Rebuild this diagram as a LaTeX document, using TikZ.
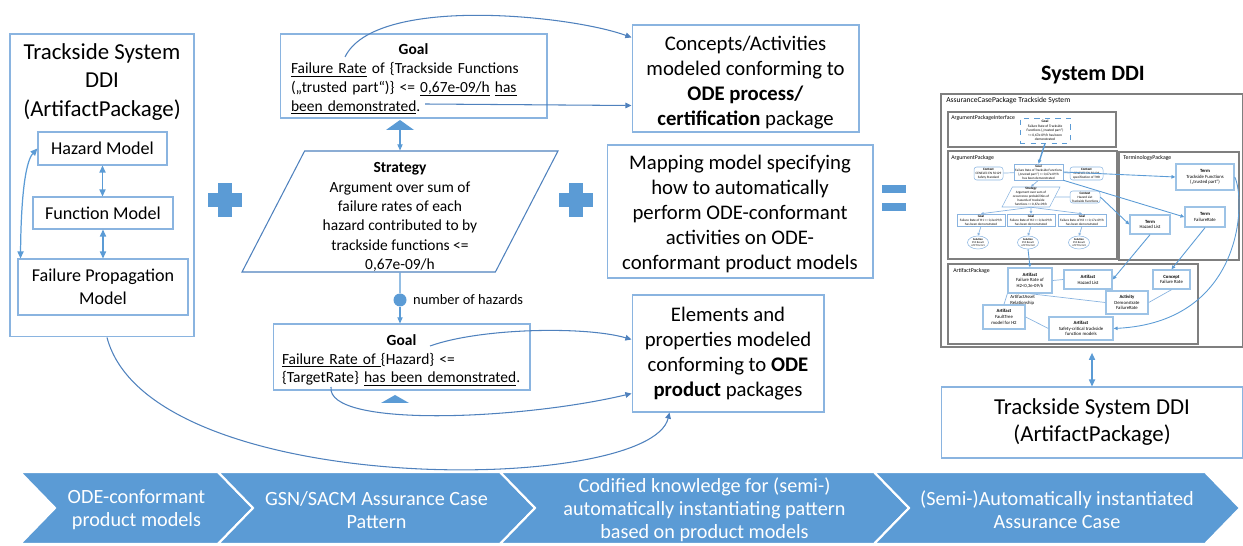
\documentclass[tikz,border=0pt]{standalone}
\usepackage{fontspec}
\setmainfont{Carlito}
\usetikzlibrary{arrows.meta,shapes.geometric,calc,positioning}
\definecolor{odeblue}{HTML}{5B9BD5}
\definecolor{boxline}{HTML}{8AB4E0}
\definecolor{linkline}{HTML}{4F81BD}
\definecolor{pkggray}{HTML}{7F7F7F}
\newcommand\undl[1]{\underline{\smash{#1}}}
\begin{document}
\begin{tikzpicture}[x=0.02cm,y=-0.02cm,
  box/.style={draw=boxline,line width=0.6pt,inner sep=0pt,align=center},
  bigtext/.style={font=\fontsize{11.8}{14.2}\selectfont},
  gsntext/.style={font=\fontsize{8.8}{10.7}\selectfont},
  link/.style={draw=linkline,line width=0.6pt,-{Triangle[length=3.5pt,width=3.2pt]}},
  stem/.style={draw=odeblue,line width=0.6pt},
  twoway/.style={draw=odeblue,line width=0.7pt,{Triangle[length=4pt,width=3.5pt]}-{Triangle[length=4pt,width=3.5pt]}},
  pkg/.style={draw=pkggray,line width=0.7pt,inner sep=0pt},
  pkglabel/.style={anchor=west,inner sep=0pt,font=\fontsize{3.3}{4}\selectfont},
  gsnmini/.style={draw=boxline,line width=0.3pt,inner sep=0pt,align=center,font=\fontsize{1.9}{2.3}\selectfont},
  term/.style={draw=odeblue!60,line width=0.8pt,inner sep=0pt,align=center,font=\fontsize{2.7}{3.3}\selectfont},
  minilink/.style={draw=odeblue,line width=0.5pt,-{Triangle[length=2.2pt,width=2pt]}},
  miniline/.style={draw=boxline,line width=0.4pt},
  chevtext/.style={text=white,align=center,font=\fontsize{11.5}{13.2}\selectfont}]
\useasboundingbox (0,0) rectangle (1243,546);

% trackside DDI
\node[box,minimum width=3.68cm,minimum height=6.06cm] (ddi) at (102,185.5) {};
\node[align=center,font=\fontsize{13}{16}\selectfont] (ddititle) at (102,82) {Trackside System\\DDI\\(ArtifactPackage)};
\node[box,minimum width=2.58cm,minimum height=0.66cm,font=\fontsize{10.3}{13.1}\selectfont] (haz) at (102.5,148.5) {Hazard Model};
\node[box,minimum width=2.8cm,minimum height=0.64cm,font=\fontsize{10.3}{13.1}\selectfont] (fun) at (103,213) {Function Model};
\node[box,minimum width=3.4cm,minimum height=1.12cm,font=\fontsize{10.3}{13.1}\selectfont] (fpm) at (103,287) {Failure Propagation\\Model};
\draw[twoway] (haz.south) -- (haz.south |- fun.north);
\draw[twoway] (fun.south) -- (fun.south |- fpm.north);
\draw[twoway] ([xshift=0.06cm]fpm.north west) .. controls (21,200) and (25,162) .. (haz.west);

\foreach \cx in {225,576}
{
  \fill[odeblue] (\cx-17,193) rectangle (\cx+17,207);
  \fill[odeblue] (\cx-7,183) rectangle (\cx+7,217);
}
\fill[odeblue] (882,185) rectangle (906,193);
\fill[odeblue] (882,203) rectangle (906,211);

% assurance case pattern
\node[box,minimum width=5.34cm,minimum height=1.68cm,text width=4.9cm,align=left,gsntext] (goal1) at (413.5,76)
  {\rule{0pt}{10pt}\makebox[4.9cm]{\textbf{Goal}}\\\undl{Failure Rate} of \{Trackside Functions\\(„trusted part“)\} <= \undl{0,67e-09/h} \undl{has}\\\undl{been demonstrated}.};
\coordinate (tri1) at (400,130);
\fill[odeblue] (tri1) ++(-14,0) -- ++(28,0) -- ++(-14,-10) -- cycle;
\node[trapezium,trapezium left angle=62.5,trapezium right angle=117.5,trapezium stretches body,
  draw=linkline,line width=0.6pt,inner sep=0pt,minimum width=6.32cm,minimum height=2.42cm,align=center,
  font=\fontsize{8.8}{11}\selectfont] (strat) at (400,211.5)
  {\rule{0pt}{12.3pt}\textbf{Strategy}\\Argument over sum of\\failure rates of each\\hazard contributed to by\\trackside functions <=\\0,67e-09/h};
\draw[stem,-{Triangle[length=3.5pt,width=3pt]}] (tri1) -- (tri1 |- strat.north);
\node[box,minimum width=5.14cm,minimum height=1.32cm,text width=4.78cm,align=left,gsntext] (goal2) at (401.5,357)
  {\rule{0pt}{10pt}\makebox[4.78cm]{\textbf{Goal}}\\\undl{Failure Rate of }\{Hazard\} <=\\\{TargetRate\} \undl{has been demonstrated}.};
\node[circle,fill=odeblue,inner sep=0pt,minimum size=0.26cm] (hzc) at (400,300) {};
\node[right=0.12cm of hzc,inner sep=0pt,font=\fontsize{8.2}{10}\selectfont] (hzlabel) {number of hazards};
\draw[stem] (strat.south) -- (hzc);
\draw[stem,-{Triangle[length=3.5pt,width=3pt]}] (hzc) -- (hzc |- goal2.north);
\coordinate (tri2) at (395,403);
\fill[odeblue] (tri2) ++(-14,0) -- ++(28,0) -- ++(-14,-8) -- cycle;

% ODE packages
\node[box,bigtext,minimum width=4.54cm,minimum height=2.14cm] (conc) at (745.5,78.5)
  {\rule{0pt}{13pt}Concepts/Activities\\modeled conforming to\\\textbf{ODE process/}\\\textbf{certification} package};
\node[box,bigtext,minimum width=5.32cm,minimum height=2.66cm] (mapm) at (740,211.5)
  {\rule{0pt}{11.2pt}Mapping model specifying\\how to automatically\\perform ODE-conformant\\activities on ODE-\\conformant product models};
\node[box,bigtext,minimum width=3.84cm,minimum height=2.34cm] (elem) at (728,353.5)
  {Elements and\\properties modeled\\conforming to \textbf{ODE}\\\textbf{product} packages};

\coordinate (g1rate) at (345,57);
\coordinate (g1dem) at (425,104);
\coordinate (g2haz) at (430,346);
\coordinate (g2rate) at (331,387);
\draw[link] (g1rate) .. controls (375,-5) and (570,15) .. ($(conc.north west)+(0,13)$);
\draw[link] (g1dem) -- ($(conc.south west)+(0,-27)$);
\draw[link] (g2haz) .. controls (480,328) and (585,326) .. ($(elem.north west)+(0,45)$);
\draw[link] (g2rate) .. controls (326,428) and (520,420) .. ($(elem.south west)+(0,-19)$);
\draw[link] ($(ddi.south)+(5,0)$) .. controls (150,500) and (650,495) .. ($(elem.south west)+(38,0)$);

% instantiated system DDI
\node[font=\bfseries\fontsize{12.5}{15}\selectfont] (sysddi) at (1093,75) {System DDI};
\node[pkg,minimum width=6.04cm,minimum height=5.06cm] (acp) at (1092,220.5) {};
\node[pkglabel,font=\fontsize{4.3}{5}\selectfont] (acplbl) at (946,101) {AssuranceCasePackage Trackside System};

\node[pkg,minimum width=3.36cm,minimum height=0.7cm] (api) at (1032,129.5) {};
\node[pkglabel] (apilbl) at (951,118) {ArgumentPackageInterface};
\node[gsnmini,dashed,draw=odeblue,line width=0.5pt,minimum width=1cm,minimum height=0.5cm,font=\fontsize{2}{2.6}\selectfont] (ifgoal) at (1045,130.5)
  {\textbf{Goal}\\Failure Rate of Trackside\\Functions („trusted part“)\\<= 0,67e-09/h has been\\demonstrated};

\node[pkg,minimum width=3.38cm,minimum height=2.16cm] (argp) at (1032.5,205) {};
\node[pkglabel] (argplbl) at (951,158) {ArgumentPackage};
\node[gsnmini,rounded corners=1.5pt,minimum width=0.58cm,minimum height=0.26cm] (ctx1) at (988.5,173.5) {\textbf{Context}\\CENELEC EN 50129\\Safety Standard};
\node[gsnmini,minimum width=0.98cm,minimum height=0.32cm] (agoal) at (1038.5,172)
  {\textbf{Goal}\\Failure Rate of Trackside Functions\\(„trusted part“) <= 0,67e-09/h\\has been demonstrated};
\node[gsnmini,rounded corners=1.5pt,minimum width=0.66cm,minimum height=0.26cm] (ctx2) at (1086.5,173.5) {\textbf{Context}\\CENELEC EN 50129\\specification of THR};
\node[gsnmini,trapezium,trapezium left angle=61,trapezium right angle=119,trapezium stretches body,
  minimum width=1.16cm,minimum height=0.4cm] (astrat) at (1031,197)
  {\textbf{Strategy}\\Argument over sum of\\occurrence probabilities of\\hazards of trackside\\functions <= 0,67e-09/h};
\node[gsnmini,rounded corners=1.5pt,minimum width=0.6cm,minimum height=0.24cm] (ctx3) at (1085,197) {\textbf{Context}\\Hazard List\\Trackside Functions};
\draw[miniline,-{Triangle[length=1.5pt,width=1.5pt]}] (agoal.south) -- (astrat.north);
\draw[miniline] (ctx1) -- (agoal);
\draw[miniline] (ctx2) -- (agoal);
\draw[miniline] (astrat) -- (ctx3);
\draw[minilink,line width=0.8pt] (ifgoal.south) -- (agoal.north);
\foreach \gx/\hz/\rate in {981/1/{0,2},1031/2/{0,3},1082/3/{0,17}}
{
  \node[gsnmini,minimum width=0.96cm,minimum height=0.24cm] (hg\hz) at (\gx,220) {\textbf{Goal}\\Failure Rate of H\hz{} <= \rate e-09/h\\has been demonstrated};
  \node[gsnmini,ellipse,minimum width=0.42cm,minimum height=0.26cm,font=\fontsize{1.6}{1.9}\selectfont] (sol\hz) at (\gx-3,242.5) {\textbf{Solution}\\FTA Result\\of FT for H\hz};
  \draw[miniline,-{Triangle[length=1.5pt,width=1.5pt]}] (astrat.south) -- (hg\hz.north);
  \draw[miniline,-{Triangle[length=1.5pt,width=1.5pt]}] (hg\hz.south) -- (sol\hz.north);
}

\node[pkg,minimum width=2.4cm,minimum height=2.16cm] (termp) at (1179,206) {};
\node[pkglabel] (termplbl) at (1123,158) {TerminologyPackage};
\node[term,minimum width=1.16cm,minimum height=0.52cm] (tTF) at (1205,177) {\textbf{Term}\\Trackside Functions\\(„trusted part“)};
\node[term,minimum width=0.8cm,minimum height=0.4cm] (tFR) at (1205,217) {\textbf{Term}\\FailureRate};
\node[term,minimum width=0.8cm,minimum height=0.38cm] (tHL) at (1150,224.5) {\textbf{Term}\\Hazard List};
\draw[minilink] (agoal.east) -- (tTF.west);
\draw[minilink] (agoal.south east) -- (tFR.west);
\draw[minilink] (ctx3.east) -- (tHL.west);

\node[pkg,minimum width=5cm,minimum height=1.6cm] (artp) at (1073,304) {};
\node[pkglabel] (artplbl) at (953,271) {ArtifactPackage};
\node[term,minimum width=0.88cm,minimum height=0.5cm] (afr) at (1030,280.5) {\textbf{Artifact}\\Failure Rate of\\H2<0,3e-09/h};
\node[term,minimum width=0.96cm,minimum height=0.38cm] (ahl) at (1088,279.5) {\textbf{Artifact}\\Hazard List};
\node[term,minimum width=0.74cm,minimum height=0.38cm] (cfr) at (1171.5,279.5) {\textbf{Concept}\\Failure Rate};
\node[term,minimum width=0.84cm,minimum height=0.46cm] (act) at (1127,302.5) {\textbf{Activity}\\Demonstrate\\FailureRate};
\node[term,minimum width=0.84cm,minimum height=0.48cm] (aft) at (1004,317) {\textbf{Artifact}\\FaultTree\\model for H2};
\node[term,minimum width=1.28cm,minimum height=0.46cm] (asc) at (1081,328.5) {\textbf{Artifact}\\Safety-critical trackside\\function models};
\node[anchor=north west,inner sep=0pt,align=left,font=\fontsize{2.7}{3.3}\selectfont] (relnote) at (1010,295) {ArtifactAsset\\Relationship};
\draw[miniline] (afr.east) -- (ahl.west);
\draw[miniline] (afr.south west) -- (aft.north);
\draw[miniline] (afr.south) -- (act.west);
\draw[miniline] (act.east) -- (cfr.south);
\draw[miniline] (aft.east) -- (asc.west);
\draw[minilink] (sol2.south) -- (afr.north);
\draw[minilink] (tHL.south) -- (ahl.east);
\draw[minilink] (tFR.south) -- (cfr.north);
\draw[minilink] (tTF.east) .. controls (1246,200) and (1244,322) .. (asc.east);

\node[box,minimum width=6.04cm,minimum height=1.42cm,font=\fontsize{13}{15.4}\selectfont] (tsd) at (1092,422.5) {Trackside System DDI\\(ArtifactPackage)};
\draw[twoway,shorten <=3pt] (acp.south) -- (tsd.north);

% process chevrons
\foreach \l/\r in {20/218,218/500,500/874,874/1205}
{
  \filldraw[fill=odeblue,draw=white,line width=1.2pt] (\l,472) -- (\r,472) -- (\r+35,508) -- (\r,544) -- (\l,544) -- (\l+35,508) -- cycle;
}
\node[chevtext] (step1) at (136.5,510) {ODE-conformant\\product models};
\node[chevtext] (step2) at (376.5,510) {GSN/SACM Assurance Case\\Pattern};
\node[chevtext] (step3) at (704.5,510) {Codified knowledge for (semi-)\\automatically instantiating pattern\\based on product models};
\node[chevtext] (step4) at (1057,510) {(Semi-)Automatically instantiated\\Assurance Case};
\end{tikzpicture}
\end{document}
